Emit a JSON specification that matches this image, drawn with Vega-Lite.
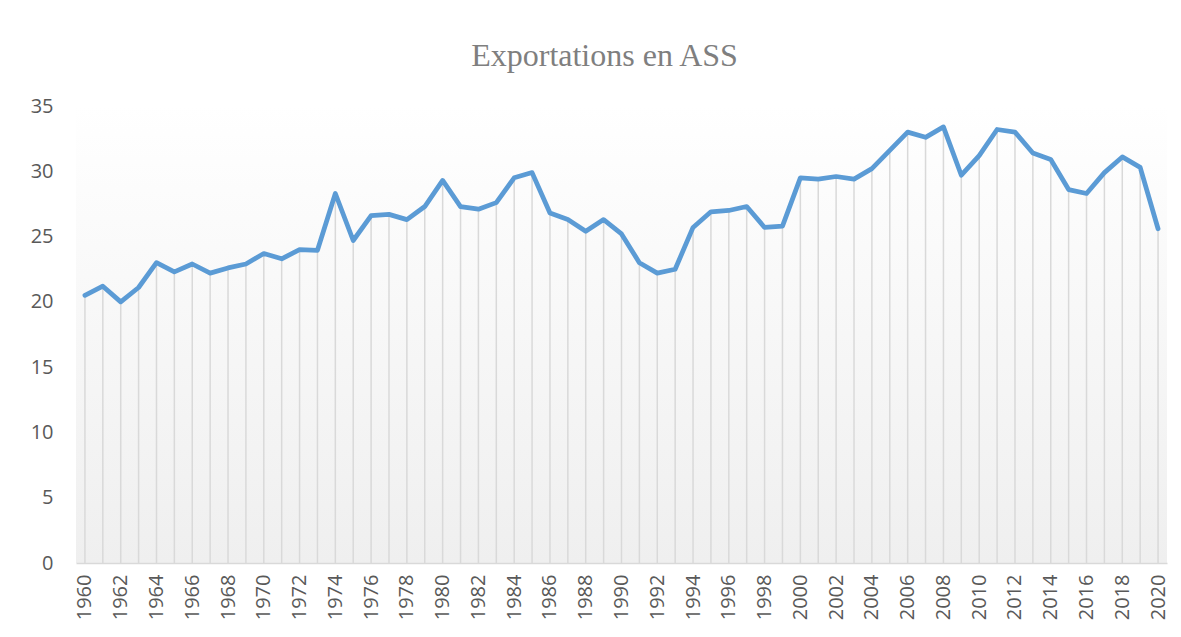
{
  "$schema": "https://vega.github.io/schema/vega-lite/v6.json",
  "width": 1091,
  "height": 457,
  "padding": {"left": 30, "top": 40, "right": 10, "bottom": 2},
  "background": "white",
  "title": {
    "text": "Exportations en ASS",
    "font": "Liberation Serif",
    "fontSize": 32,
    "fontWeight": "normal",
    "color": "#7f7f7f",
    "anchor": "middle",
    "dx": -17,
    "offset": 23
  },
  "data": {
    "values": [
      {"year": 1960, "value": 20.5}, {"year": 1961, "value": 21.2}, {"year": 1962, "value": 20.0},
      {"year": 1963, "value": 21.1}, {"year": 1964, "value": 23.0}, {"year": 1965, "value": 22.3},
      {"year": 1966, "value": 22.9}, {"year": 1967, "value": 22.2}, {"year": 1968, "value": 22.6},
      {"year": 1969, "value": 22.9}, {"year": 1970, "value": 23.7}, {"year": 1971, "value": 23.3},
      {"year": 1972, "value": 24.0}, {"year": 1973, "value": 23.95}, {"year": 1974, "value": 28.3},
      {"year": 1975, "value": 24.7}, {"year": 1976, "value": 26.6}, {"year": 1977, "value": 26.7},
      {"year": 1978, "value": 26.3}, {"year": 1979, "value": 27.3}, {"year": 1980, "value": 29.3},
      {"year": 1981, "value": 27.3}, {"year": 1982, "value": 27.1}, {"year": 1983, "value": 27.6},
      {"year": 1984, "value": 29.5}, {"year": 1985, "value": 29.9}, {"year": 1986, "value": 26.8},
      {"year": 1987, "value": 26.3}, {"year": 1988, "value": 25.4}, {"year": 1989, "value": 26.3},
      {"year": 1990, "value": 25.2}, {"year": 1991, "value": 23.0}, {"year": 1992, "value": 22.2},
      {"year": 1993, "value": 22.5}, {"year": 1994, "value": 25.7}, {"year": 1995, "value": 26.9},
      {"year": 1996, "value": 27.0}, {"year": 1997, "value": 27.3}, {"year": 1998, "value": 25.7},
      {"year": 1999, "value": 25.8}, {"year": 2000, "value": 29.5}, {"year": 2001, "value": 29.4},
      {"year": 2002, "value": 29.6}, {"year": 2003, "value": 29.4}, {"year": 2004, "value": 30.2},
      {"year": 2005, "value": 31.6}, {"year": 2006, "value": 33.0}, {"year": 2007, "value": 32.6},
      {"year": 2008, "value": 33.4}, {"year": 2009, "value": 29.7}, {"year": 2010, "value": 31.2},
      {"year": 2011, "value": 33.2}, {"year": 2012, "value": 33.0}, {"year": 2013, "value": 31.4},
      {"year": 2014, "value": 30.9}, {"year": 2015, "value": 28.6}, {"year": 2016, "value": 28.3},
      {"year": 2017, "value": 29.9}, {"year": 2018, "value": 31.1}, {"year": 2019, "value": 30.3},
      {"year": 2020, "value": 25.6}
    ]
  },
  "encoding": {
    "x": {
      "field": "year",
      "type": "quantitative",
      "scale": {"domain": [1959.5, 2020.5], "nice": false, "zero": false},
      "axis": {
        "title": null,
        "values": [1960,1962,1964,1966,1968,1970,1972,1974,1976,1978,1980,1982,1984,1986,1988,1990,1992,1994,1996,1998,2000,2002,2004,2006,2008,2010,2012,2014,2016,2018,2020],
        "format": "d",
        "labelAngle": 270,
        "labelFont": "Open Sans",
        "labelFontSize": 20,
        "labelColor": "#595959",
        "labelPadding": 11,
        "ticks": false,
        "tickSize": 0,
        "grid": false,
        "domainColor": "#d9d9d9",
        "domainWidth": 1.5,
        "labelOverlap": false
      }
    },
    "y": {
      "field": "value",
      "type": "quantitative",
      "scale": {"domain": [0, 35], "nice": false},
      "axis": {
        "title": null,
        "values": [0, 5, 10, 15, 20, 25, 30, 35],
        "labelFont": "Open Sans",
        "labelFontSize": 20,
        "labelColor": "#595959",
        "labelPadding": 23,
        "ticks": false,
        "tickSize": 0,
        "grid": false,
        "domain": false
      }
    }
  },
  "layer": [
    {
      "mark": {"type": "rule", "color": "#d9d9d9", "strokeWidth": 1.5},
      "encoding": {"y2": {"datum": 0}}
    },
    {
      "mark": {"type": "line", "color": "#5b9bd5", "strokeWidth": 4.75, "strokeJoin": "round", "strokeCap": "round"}
    }
  ],
  "config": {
    "view": {
      "stroke": null,
      "fill": {
        "gradient": "linear",
        "x1": 0, "y1": 0, "x2": 0, "y2": 1,
        "stops": [
          {"offset": 0, "color": "#ffffff"},
          {"offset": 0.12, "color": "#fdfdfd"},
          {"offset": 1, "color": "#efefef"}
        ]
      }
    }
  }
}
